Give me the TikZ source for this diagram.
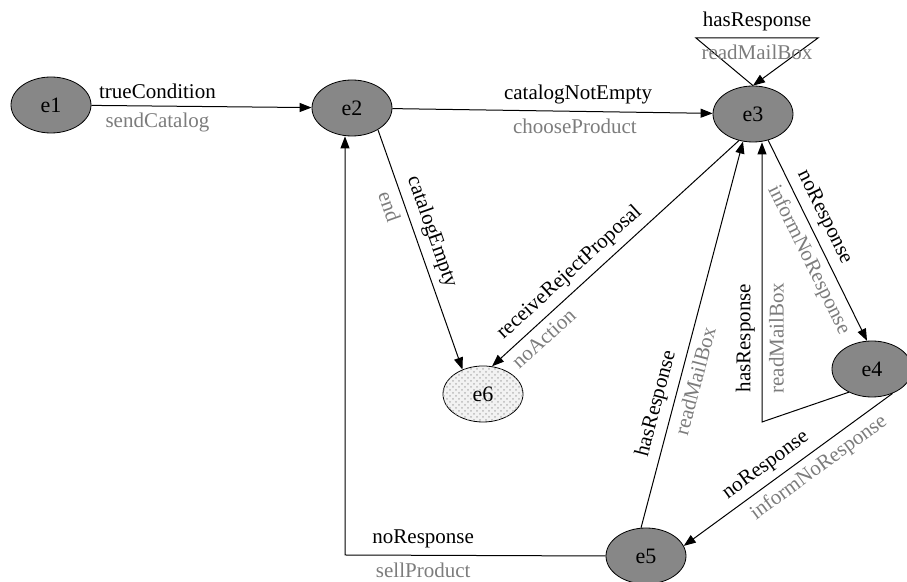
\documentclass[tikz,border=0pt]{standalone}
\usepackage{fontspec}
\setmainfont{Liberation Serif}
\usetikzlibrary{shapes,arrows.meta,patterns}
\definecolor{stategray}{HTML}{878787}
\definecolor{actgray}{HTML}{7c7c7c}

\begin{document}
\begin{tikzpicture}[x=0.5pt,y=-0.5pt,
  state/.style={shape=ellipse,draw=black,fill=stategray,minimum width=40pt,minimum height=28pt,inner sep=0pt,font=\fontsize{11}{13}\selectfont},
  cond/.style={text=black,font=\fontsize{10.5}{12}\selectfont},
  act/.style={text=actgray,font=\fontsize{10.5}{12}\selectfont},
  arr/.style={-{Triangle[length=6pt,width=4.5pt]},draw=black,line width=0.5pt}]
\useasboundingbox (0,0) rectangle (907,582);

\node[state] (e1) at (51,105) {e1};
\node[state] (e2) at (352,108) {e2};
\node[state] (e3) at (753,114) {e3};
\node[state] (e4) at (872,369) {e4};
\node[state] (e5) at (646,556) {e5};
\node[state,fill=gray!10,postaction={pattern=crosshatch dots,pattern color=gray!55}] (e6) at (483,394) {e6};

\coordinate (t1) at (696,38);
\coordinate (t2) at (818,38);
\coordinate (c1) at (762,422);
\coordinate (c2) at (345,555);

\draw [arr] (e1) -- node[cond,above,pos=0.3] {trueCondition} node[act,below,pos=0.3] {sendCatalog} (e2);
\draw [arr] (e2) -- node[cond,above,pos=0.58] {catalogNotEmpty} node[act,below,pos=0.57] {chooseProduct} (e3);
\draw [arr] (e2.-40) -- node[cond,above,sloped,pos=0.45] {catalogEmpty} node[act,below,sloped,pos=0.3] {end} (e6.130);
\draw [arr] (e3.242) -- node[cond,above,sloped,pos=0.64] {receiveRejectProposal} node[act,below,sloped,pos=0.83] {noAction} (e6.72);
\draw [arr] (e3.-60) -- node[cond,above,sloped,pos=0.42] {noResponse} node[act,below,sloped,pos=0.56] {informNoResponse} (e4.100);
\draw [arr] (e4.-50) -- node[cond,above,sloped,pos=0.56] {noResponse} node[act,below,sloped,pos=0.4] {informNoResponse} (e5.15);
\draw [arr] (e5.100) -- node[cond,above,sloped,pos=0.31] {hasResponse} node[act,below,sloped,pos=0.39] {readMailBox} (e3.250);

\draw [arr] (e3.north) -- (t1) -- node[cond,above] {hasResponse} node[act,below] {readMailBox} (t2) -- (e3.north);
\draw [arr] (e4.225) -- (c1) -- node[cond,above,sloped,pos=0.3] {hasResponse} node[act,below,sloped,pos=0.3] {readMailBox} (c1 |- e3.south);
\draw [arr] (e5.west) -- node[cond,above,pos=0.7] {noResponse} node[act,below,pos=0.7] {sellProduct} (c2) -- (c2 |- e2.south);
\end{tikzpicture}
\end{document}
